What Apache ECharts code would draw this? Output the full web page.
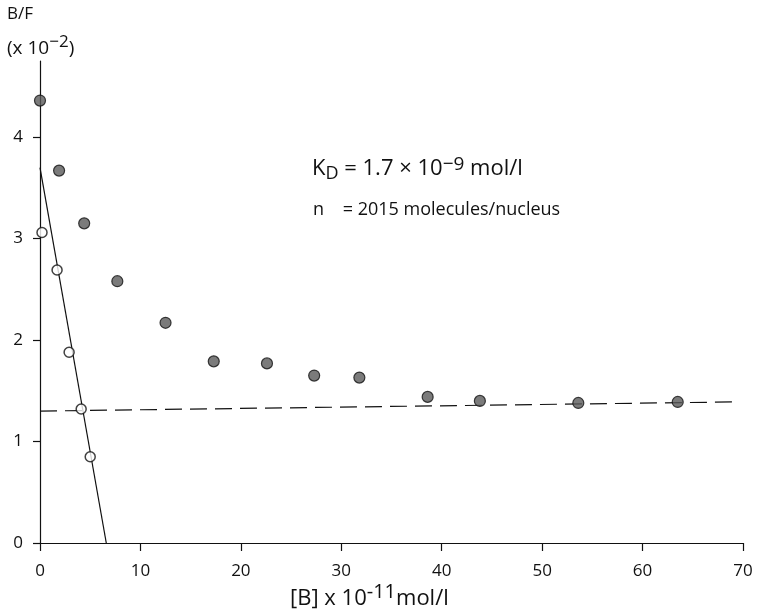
<!DOCTYPE html>
<html>
<head>
<meta charset="utf-8">
<script src="https://cdn.jsdelivr.net/npm/echarts@6/dist/echarts.min.js"></script>
<style>
html,body{margin:0;padding:0;background:#fff;}
#chart{width:757px;height:611px;}
</style>
</head>
<body>
<div id="chart"></div>
<script>
// Total binding (filled circles)
var totalX = [0.0, 1.9, 4.4, 7.7, 12.5, 17.3, 22.6, 27.3, 31.8, 38.6, 43.8, 53.6, 63.5];
var totalY = [4.36, 3.67, 3.15, 2.58, 2.17, 1.79, 1.77, 1.65, 1.63, 1.44, 1.40, 1.38, 1.39];
// Specific binding (open circles)
var specX = [0.2, 1.7, 2.9, 4.1, 5.0];
var specY = [3.06, 2.69, 1.88, 1.32, 0.85];
// Scatchard fit line (solid)
var fitX = [0, 6.6];
var fitY = [3.7, 0];
// Non-specific binding line (dashed)
var nsX = [0, 69];
var nsY = [1.30, 1.39];
// Ticks
var xTicks = [0, 10, 20, 30, 40, 50, 60, 70];
var yTicks = [0, 1, 2, 3, 4];

function pairs(xs, ys) { return xs.map(function (x, i) { return [x, ys[i]]; }); }

var FONT = '"Open Sans", Lato, sans-serif';
var chart = echarts.init(document.getElementById('chart'), null, {renderer: 'canvas'});

var option = {
  backgroundColor: '#ffffff',
  animation: false,
  grid: {left: 40, top: 61, width: 703, bottom: 68, containLabel: false},
  xAxis: {
    type: 'value', min: 0, max: 70, interval: 10,
    axisLine: {show: true, onZero: false, lineStyle: {color: '#111', width: 1.2}},
    axisTick: {show: true, inside: false, length: 8, lineStyle: {color: '#111', width: 1.2}},
    axisLabel: {show: true, margin: 20, color: '#111', fontSize: 17, fontFamily: FONT, customValues: xTicks},
    splitLine: {show: false}
  },
  yAxis: {
    type: 'value', min: 0, max: 4.75, interval: 1,
    axisLine: {show: true, onZero: false, lineStyle: {color: '#111', width: 1.2}},
    axisTick: {show: true, inside: false, length: 7, lineStyle: {color: '#111', width: 1.2}, customValues: yTicks},
    axisLabel: {show: true, margin: 17, color: '#111', fontSize: 17, fontFamily: FONT, customValues: yTicks},
    splitLine: {show: false}
  },
  series: [
    {
      type: 'line', data: pairs(fitX, fitY), symbol: 'none', z: 2,
      lineStyle: {color: '#111', width: 1.2}
    },
    {
      type: 'line', data: pairs(nsX, nsY), symbol: 'none', z: 2,
      lineStyle: {color: '#111', width: 1.2, type: [17, 8]}
    },
    {
      type: 'scatter', data: pairs(totalX, totalY), symbol: 'circle', symbolSize: 11, z: 3,
      itemStyle: {color: '#5a5a5a', borderColor: '#111', borderWidth: 1.2}
    },
    {
      type: 'scatter', data: pairs(specX, specY), symbol: 'circle', symbolSize: 10, z: 4,
      itemStyle: {color: '#ffffff', borderColor: '#111', borderWidth: 1.5}
    }
  ],
  graphic: [
    {
      type: 'text', left: 7, top: 6,
      style: {text: 'B/F', fill: '#111', font: '17px ' + FONT}
    },
    {
      type: 'text', left: 7, top: 34,
      style: {
        text: '{a|(x 10}{s|−2}{a|)}',
        rich: {
          a: {fontSize: 19, fontFamily: FONT, fill: '#111', lineHeight: 24, verticalAlign: 'bottom'},
          s: {fontSize: 17, fontFamily: FONT, fill: '#111', lineHeight: 24, verticalAlign: 'top'}
        }
      }
    },
    {
      type: 'text', left: 312, top: 155,
      style: {
        text: '{a|K}{d|D}{a| = 1.7 × 10}{s|−9}{a| mol/l}',
        rich: {
          a: {fontSize: 22, fontFamily: FONT, fill: '#111', lineHeight: 28, verticalAlign: 'middle'},
          d: {fontSize: 18, fontFamily: FONT, fill: '#111', lineHeight: 28, verticalAlign: 'bottom'},
          s: {fontSize: 19, fontFamily: FONT, fill: '#111', lineHeight: 28, verticalAlign: 'top'}
        }
      }
    },
    {
      type: 'text', left: 313, top: 201,
      style: {text: 'n    = 2015 molecules/nucleus', fill: '#111', font: '18px ' + FONT}
    },
    {
      type: 'text', left: 290, top: 582,
      style: {
        text: '{a|[B] x 10}{s|-11}{a|mol/l}',
        rich: {
          a: {fontSize: 22, fontFamily: FONT, fill: '#111', lineHeight: 28, verticalAlign: 'bottom'},
          s: {fontSize: 20, fontFamily: FONT, fill: '#111', lineHeight: 28, verticalAlign: 'top'}
        }
      }
    }
  ]
};
chart.setOption(option);
</script>
</body>
</html>
